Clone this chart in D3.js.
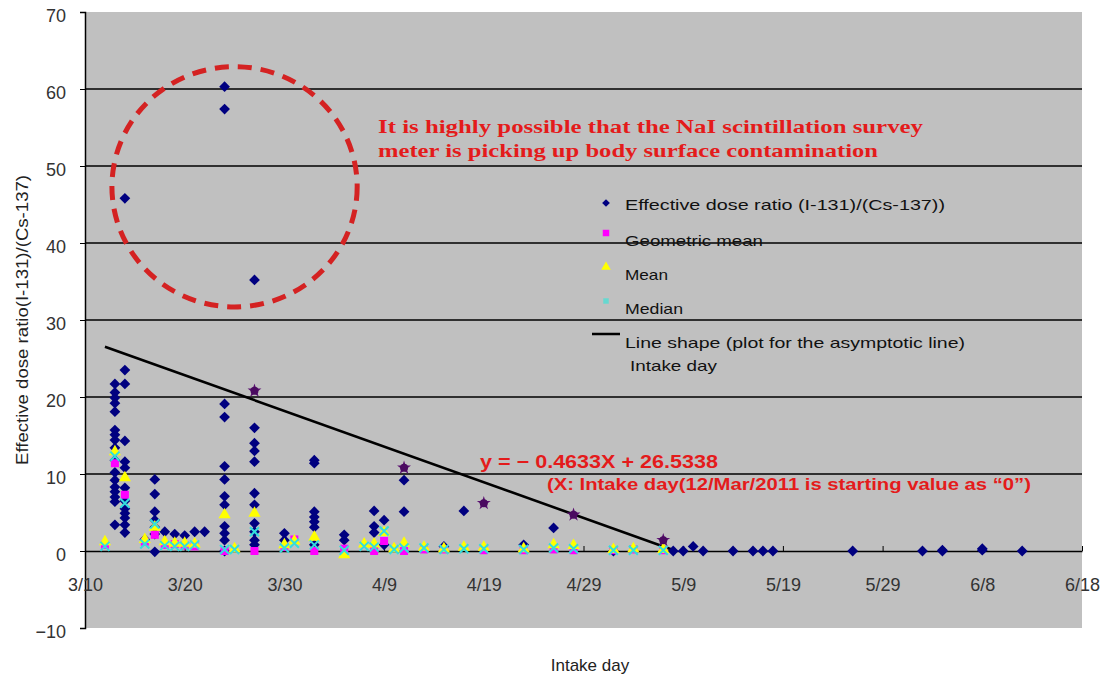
<!DOCTYPE html>
<html><head><meta charset="utf-8">
<script src="https://cdn.jsdelivr.net/npm/d3@7"></script>
<style>body{margin:0;background:#fff;} svg{display:block;}</style>
</head><body>
<svg id="chart" width="1107" height="677"></svg>
<script>
// ---------------- DATA ----------------
const xTickLabels = ["3/10","3/20","3/30","4/9","4/19","4/29","5/9","5/19","5/29","6/8","6/18"];
const yTickValues = [-10,0,10,20,30,40,50,60,70];

// Effective dose ratio (I-131)/(Cs-137): [intake day, value]
const doseRatio = [
  ["3/13",21.7],["3/13",20.6],["3/13",19.9],["3/13",19.2],["3/13",18.1],["3/13",15.7],["3/13",15.1],["3/13",14.4],
  ["3/13",13.4],["3/13",11.8],["3/13",10.2],["3/13",9.2],["3/13",8.3],["3/13",7.7],["3/13",7.0],["3/13",6.4],["3/13",3.4],
  ["3/14",45.8],["3/14",23.5],["3/14",21.7],["3/14",14.3],["3/14",11.6],["3/14",10.8],["3/14",8.2],["3/14",6.5],
  ["3/14",5.5],["3/14",4.9],["3/14",4.3],["3/14",3.4],["3/14",2.4],
  ["3/16",1.5],
  ["3/17",9.3],["3/17",7.4],["3/17",5.1],["3/17",4.0],["3/17",3.1],["3/17",2.2],["3/17",-0.1],
  ["3/18",2.5],["3/19",2.2],["3/20",2.0],["3/21",2.5],["3/22",2.5],
  ["3/24",60.3],["3/24",57.4],["3/24",19.1],["3/24",17.4],["3/24",11.0],["3/24",9.3],["3/24",7.1],["3/24",6.0],
  ["3/24",3.2],["3/24",2.3],["3/24",1.4],["3/24",0.0],
  ["3/27",35.2],["3/27",16.0],["3/27",14.0],["3/27",13.0],["3/27",11.6],["3/27",7.5],["3/27",6.0],["3/27",3.6],
  ["3/27",2.5],["3/27",1.4],["3/27",0.8],
  ["3/30",2.3],["3/30",1.4],
  ["4/2",11.8],["4/2",11.4],["4/2",5.1],["4/2",4.4],["4/2",3.8],["4/2",3.1],["4/2",0.8],
  ["4/5",2.1],["4/5",1.4],
  ["4/8",5.2],["4/8",3.2],["4/8",2.4],
  ["4/9",4.0],["4/9",0.8],
  ["4/11",9.2],["4/11",5.1],
  ["4/15",0.6],["4/17",5.2],["4/23",0.8],["4/26",3.0],
  ["5/2",0.0],["5/8",0.0],["5/9",0.0],["5/10",0.6],["5/11",0.0],["5/14",0.0],["5/16",0.0],["5/17",0.0],["5/18",0.0],
  ["5/26",0.0],["6/2",0.0],["6/4",0.0],["6/4",0.1],["6/8",0.1],["6/8",0.3],["6/12",0.0]
];
const geometricMean = [
  ["3/12",0.8],["3/13",11.4],["3/14",7.3],["3/16",1.2],["3/17",2.1],["3/18",0.8],["3/19",0.9],["3/20",0.7],["3/21",0.6],
  ["3/24",0.0],["3/27",0.0],["3/30",0.5],["3/31",1.5],["4/2",0.0],["4/5",0.3],["4/8",0.0],["4/9",1.3],["4/11",0.0],
  ["4/13",0.2],["4/15",0.2],["4/19",0.1],["4/23",0.1],["4/26",0.2],["4/28",0.1],["5/2",0.1],["5/4",0.2],["5/7",0.1]
];
const meanValues = [
  ["3/12",1.2],["3/13",12.9],["3/14",9.5],["3/16",1.5],["3/17",3.1],["3/18",1.2],["3/19",1.0],["3/20",1.0],["3/21",0.9],
  ["3/24",4.7],["3/25",0.3],["3/27",4.9],["3/30",0.8],["3/31",1.3],["4/2",1.8],["4/5",-0.5],["4/7",0.9],["4/8",0.9],
  ["4/9",2.4],["4/10",0.3],["4/11",1.0],["4/13",0.5],["4/15",0.3],["4/17",0.5],["4/19",0.5],["4/23",0.3],["4/26",0.8],
  ["4/28",0.7],["5/2",0.2],["5/4",0.3],["5/7",0.2]
];
const medianValues = [
  ["3/12",0.6],["3/13",12.3],["3/14",6.2],["3/16",0.9],["3/17",3.5],["3/18",0.7],["3/19",0.6],["3/20",0.6],["3/21",0.8],
  ["3/24",0.2],["3/25",0.2],["3/27",2.5],["3/30",0.4],["3/31",1.0],["4/2",0.8],["4/5",0.1],["4/7",0.6],["4/8",0.5],
  ["4/9",2.6],["4/10",0.2],["4/11",0.4],["4/13",0.4],["4/15",0.2],["4/17",0.3],["4/19",0.3],["4/23",0.2],["4/26",0.4],
  ["4/28",0.3],["5/2",0.1],["5/4",0.1],["5/7",0.1]
];
// upper envelope points used for the asymptotic line
const envelopePoints = [["3/27",20.8],["4/11",10.8],["4/19",6.2],["4/28",4.7],["5/7",1.4]];
// fit: y = slope * X + intercept, X = days since 3/12
const fitSlope = -0.4633, fitIntercept = 26.5338, fitOrigin = "3/12";
// dashed circle annotation in data units
const circleCenter = ["3/25", 47.3], circleRadiusDays = 12.3, circleRadiusUnits = 15.6;

// ---------------- CHART ----------------
const svg = d3.select("#chart");
const parse = s => d3.timeParse("%m/%d/%Y")(s + "/2011");
const X0 = 85, X1 = 1082, Y0 = 628, Y1 = 12;
const x = d3.scaleTime().domain([parse("3/10"), parse("6/18")]).range([X0, X1]);
const y = d3.scaleLinear().domain([-10, 70]).range([Y0, Y1]);
const dayMs = 864e5;

// plot background
svg.append("rect").attr("x", X0).attr("y", Y1).attr("width", X1 - X0).attr("height", Y0 - Y1).attr("fill", "#c0c0c0");

// gridlines
svg.append("g").selectAll("line").data(yTickValues.filter(v => v > 0 && v < 70)).join("line")
  .attr("x1", X0).attr("x2", X1).attr("y1", d => y(d)).attr("y2", d => y(d))
  .attr("stroke", "#000").attr("stroke-width", 1.4);

// y axis
const yAxis = d3.axisLeft(y).tickValues(yTickValues).tickSize(5).tickPadding(14).tickFormat(d3.format("d"));
const gy = svg.append("g").attr("transform", `translate(${X0},0)`).call(yAxis);
gy.select(".domain").attr("stroke", "#000").attr("stroke-width", 1.5);
gy.selectAll(".tick line").attr("stroke", "#000");
gy.selectAll("text").attr("font-family", "Liberation Sans, Arial, sans-serif").attr("font-size", 18).attr("fill", "#333")
  .attr("dy", "0.5em").text(d => d < 0 ? "\u2212" + Math.abs(d) : d);

// x axis at y=0
const xAxis = d3.axisBottom(x).tickValues(xTickLabels.map(parse)).tickSizeInner(-5).tickSizeOuter(0).tickPadding(27)
  .tickFormat((d, i) => xTickLabels[i]);
const gx = svg.append("g").attr("transform", `translate(0,${y(0)})`).call(xAxis);
gx.select(".domain").attr("stroke", "#000").attr("stroke-width", 1.5);
gx.selectAll(".tick line").attr("stroke", "#000");
gx.selectAll("text").attr("font-family", "Liberation Sans, Arial, sans-serif").attr("font-size", 18).attr("fill", "#333");

// fit line
const xEnd = -fitIntercept / fitSlope;
const o = parse(fitOrigin).getTime();
const fitPts = [0, xEnd].map(X => [new Date(o + X * dayMs), fitSlope * X + fitIntercept]);
svg.append("path").attr("d", d3.line().x(d => x(d[0])).y(d => y(d[1]))(fitPts))
  .attr("stroke", "#000").attr("stroke-width", 2.6).attr("fill", "none");

// markers
const diamond = d3.symbol().type(d3.symbolSquare).size(58);
const square = d3.symbol().type(d3.symbolSquare).size(64);
const tri = d3.symbol().type(d3.symbolTriangle).size(64);
const star = d3.symbol().type(d3.symbolStar).size(60);

svg.append("g").selectAll("path").data(doseRatio).join("path")
  .attr("d", diamond).attr("transform", d => `translate(${x(parse(d[0]))},${y(d[1])}) rotate(45)`)
  .attr("fill", "#000080");
svg.append("g").selectAll("path").data(geometricMean).join("path")
  .attr("d", square).attr("transform", d => `translate(${x(parse(d[0]))},${y(d[1])})`)
  .attr("fill", "#ff00ff");
svg.append("g").selectAll("path").data(meanValues).join("path")
  .attr("d", tri).attr("transform", d => `translate(${x(parse(d[0]))},${y(d[1])})`)
  .attr("fill", "#ffff00");
function xMark(g, cx, cy, r, color, w) {
  g.append("path").attr("d", `M${cx-r},${cy-r}L${cx+r},${cy+r}M${cx-r},${cy+r}L${cx+r},${cy-r}`)
    .attr("stroke", color).attr("stroke-width", w);
}
const gMed = svg.append("g");
medianValues.forEach(d => xMark(gMed, x(parse(d[0])), y(d[1]), 4.5, "#33dddd", 2));
const gEnv = svg.append("g");
gEnv.selectAll("path").data(envelopePoints).join("path")
  .attr("d", star).attr("transform", d => `translate(${x(parse(d[0]))},${y(d[1])})`)
  .attr("fill", "#5a1070");
gEnv.selectAll("circle").data(envelopePoints).join("circle")
  .attr("cx", d => x(parse(d[0]))).attr("cy", d => y(d[1])).attr("r", 4).attr("fill", "#4a0a60");

// dashed circle
const cc = parse(circleCenter[0]).getTime();
svg.append("ellipse")
  .attr("cx", x(new Date(cc)))
  .attr("cy", y(circleCenter[1]))
  .attr("rx", x(new Date(cc + circleRadiusDays * dayMs)) - x(new Date(cc)))
  .attr("ry", y(circleCenter[1] - circleRadiusUnits) - y(circleCenter[1]))
  .attr("fill", "none").attr("stroke", "#d42222").attr("stroke-width", 5).attr("stroke-dasharray", "14 9");

// annotation texts
const red = "#e41b1b";
svg.append("text").attr("x", 378).attr("y", 133).attr("font-family", "Liberation Serif, Times New Roman, serif")
  .attr("font-weight", "bold").attr("font-size", 19).attr("fill", red).attr("textLength", 545).attr("lengthAdjust", "spacingAndGlyphs")
  .text("It is highly possible that the  NaI scintillation survey");
svg.append("text").attr("x", 378).attr("y", 157).attr("font-family", "Liberation Serif, Times New Roman, serif")
  .attr("font-weight", "bold").attr("font-size", 19).attr("fill", red).attr("textLength", 500).attr("lengthAdjust", "spacingAndGlyphs")
  .text("meter is picking up body surface contamination");
svg.append("text").attr("x", 480).attr("y", 468).attr("font-family", "Liberation Sans Narrow, Arial Narrow, Liberation Sans, sans-serif")
  .attr("font-weight", "bold").attr("font-size", 18).attr("fill", red).attr("textLength", 238).attr("lengthAdjust", "spacingAndGlyphs")
  .text("y = \u2212 0.4633X + 26.5338");
svg.append("text").attr("x", 547).attr("y", 490).attr("font-family", "Liberation Sans Narrow, Arial Narrow, Liberation Sans, sans-serif")
  .attr("font-weight", "bold").attr("font-size", 17).attr("fill", red).attr("textLength", 484).attr("lengthAdjust", "spacingAndGlyphs")
  .text("(X: Intake day(12/Mar/2011 is starting value as \u201C0\u201D)");

// legend
const lg = svg.append("g").attr("font-family", "Liberation Sans, Arial, sans-serif").attr("font-size", 15).attr("fill", "#111");
const legendItems = [
  {label: "Effective dose ratio (I-131)/(Cs-137))", ty: 210, my: 203, kind: "diamond", w: 320},
  {label: "Geometric mean", ty: 246, my: 233, kind: "square", w: 138},
  {label: "Mean", ty: 280, my: 267, kind: "tri", w: 43},
  {label: "Median", ty: 314, my: 301, kind: "median", w: 58}
];
legendItems.forEach(it => {
  lg.append("text").attr("x", 625).attr("y", it.ty).attr("textLength", it.w).attr("lengthAdjust", "spacingAndGlyphs").text(it.label);
  if (it.kind === "diamond") lg.append("path").attr("d", d3.symbol().type(d3.symbolSquare).size(30)).attr("transform", `translate(606,${it.my}) rotate(45)`).attr("fill", "#000080");
  if (it.kind === "square") lg.append("path").attr("d", d3.symbol().type(d3.symbolSquare).size(42)).attr("transform", `translate(606,${it.my})`).attr("fill", "#ff00ff");
  if (it.kind === "tri") lg.append("path").attr("d", d3.symbol().type(d3.symbolTriangle).size(40)).attr("transform", `translate(606,${it.my})`).attr("fill", "#ffff00");
  if (it.kind === "median") lg.append("path").attr("d", d3.symbol().type(d3.symbolSquare).size(30)).attr("transform", `translate(606,${it.my})`).attr("fill", "#66d8d0");
});
lg.append("line").attr("x1", 592).attr("x2", 620).attr("y1", 334).attr("y2", 334).attr("stroke", "#000").attr("stroke-width", 2.5);
lg.append("text").attr("x", 625).attr("y", 348).attr("textLength", 340).attr("lengthAdjust", "spacingAndGlyphs").text("Line shape (plot for the asymptotic line)");
lg.append("text").attr("x", 630).attr("y", 371).attr("textLength", 87).attr("lengthAdjust", "spacingAndGlyphs").text("Intake day");

// axis titles
svg.append("text").attr("transform", "translate(28,320) rotate(-90)").attr("text-anchor", "middle")
  .attr("font-family", "Liberation Sans, Arial, sans-serif").attr("font-size", 17).attr("fill", "#222")
  .attr("textLength", 290).attr("lengthAdjust", "spacingAndGlyphs")
  .text("Effective dose ratio(I-131)/(Cs-137)");
svg.append("text").attr("x", 590).attr("y", 671).attr("text-anchor", "middle")
  .attr("font-family", "Liberation Sans, Arial, sans-serif").attr("font-size", 17).attr("fill", "#222")
  .text("Intake day");
</script>
</body></html>
